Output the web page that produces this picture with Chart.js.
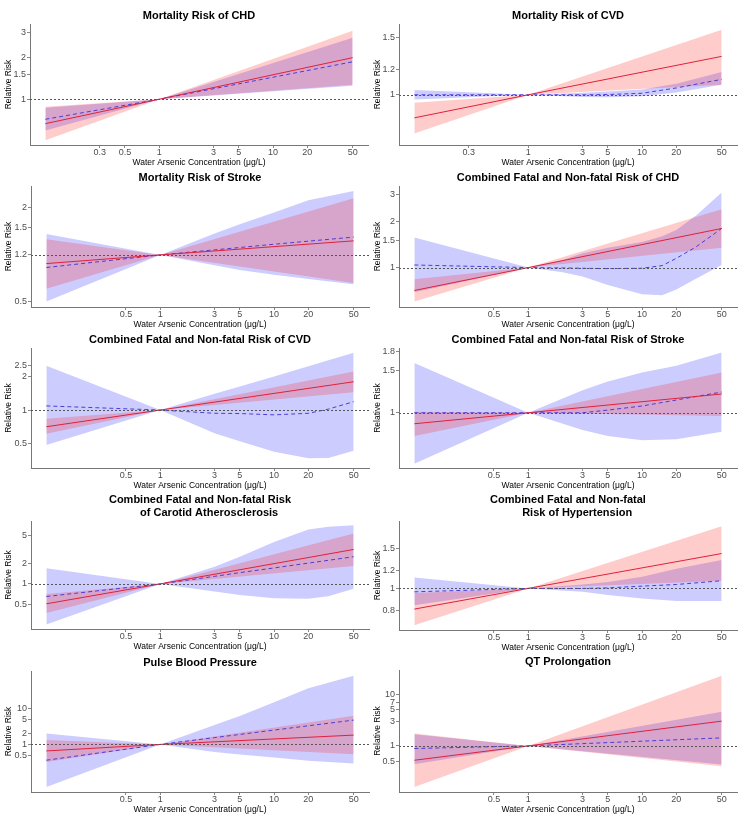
<!DOCTYPE html>
<html>
<head>
<meta charset="utf-8">
<script src="https://cdn.jsdelivr.net/npm/chart.js@4.4.1/dist/chart.umd.min.js"></script>
<style>
    body { margin: 0; background: #fff; }
    #wrap { position: relative; width: 749px; height: 819px; overflow: hidden; }
    #wrap canvas { position: absolute; }
</style>
</head>
<body>
<div id="wrap"></div>
<script>
// Titulos de cada panel (dos lineas en algunos)
const panelTitles = [
    ['Mortality Risk of CHD'],
    ['Mortality Risk of CVD'],
    ['Mortality Risk of Stroke'],
    ['Combined Fatal and Non-fatal Risk of CHD'],
    ['Combined Fatal and Non-fatal Risk of CVD'],
    ['Combined Fatal and Non-fatal Risk of Stroke'],
    ['Combined Fatal and Non-fatal Risk', '      of Carotid Atherosclerosis'],
    ['Combined Fatal and Non-fatal', '      Risk of Hypertension'],
    ['Pulse Blood Pressure'],
    ['QT Prolongation']
];

// Ticks del eje x
const xTicksA = [0.3, 0.5, 1, 3, 5, 10, 20, 50];
const xTicksB = [0.3, 1, 3, 5, 10, 20, 50];
const xTicksC = [0.5, 1, 3, 5, 10, 20, 50];
const xTickSets = [xTicksA, xTicksB, xTicksC, xTicksC, xTicksC, xTicksC, xTicksC, xTicksC, xTicksC, xTicksC];

// Ticks del eje y (valor y texto)
const yTickVals = [
    [1, 1.5, 2, 3], [1, 1.2, 1.5], [0.5, 1, 1.5, 2], [1, 1.5, 2, 3], [0.5, 1, 2, 2.5],
    [1, 1.5, 1.8], [0.5, 1, 2, 5], [0.8, 1, 1.2, 1.5], [0.5, 1, 2, 5, 10], [0.5, 1, 3, 5, 7, 10]
];
const yTickText = [
    ['1', '1.5', '2', '3'], ['1', '1.2', '1.5'], ['0.5', '1.2', '1.5', '2'], ['1', '1.5', '2', '3'], ['0.5', '1', '2', '2.5'],
    ['1', '1.5', '1.8'], ['0.5', '1', '2', '5'], ['0.8', '1', '1.2', '1.5'], ['0.5', '1', '2', '5', '10'], ['0.5', '1', '3', '5', '7', '10']
];
const yMinVals = [0.472, 0.734, 0.464, 0.553, 0.329, 0.589, 0.22, 0.658, 0.0474, 0.128];
const yMaxVals = [3.44, 1.654, 2.76, 3.41, 3.63, 1.86, 8.27, 1.97, 111, 29.5];

// Serie roja (linea continua) con su intervalo
const redX = [0.1, 1, 50];
const redMid = [
    [0.67, 1, 1.98], [0.849, 1, 1.314], [0.88, 1, 1.23], [0.709, 1, 1.80], [0.707, 1, 1.80],
    [0.90, 1, 1.197], [0.513, 1, 3.18], [0.812, 1, 1.42], [0.66, 1, 1.82], [0.527, 1, 3.02]
];
const redLo = [
    [0.51, 1, 1.27], [0.759, 1, 1.074], [0.607, 1, 0.66], [0.60, 1, 1.35], [0.61, 1, 1.45],
    [0.80, 1, 0.969], [0.376, 1, 1.82], [0.691, 1, 1.08], [0.327, 1, 0.536], [0.16, 1, 0.404]
];
const redHi = [
    [0.885, 1, 3.08], [0.945, 1, 1.589], [1.26, 1, 2.30], [0.84, 1, 2.40], [0.835, 1, 2.23],
    [1.01, 1, 1.47], [0.71, 1, 5.43], [0.954, 1, 1.87], [1.32, 1, 6.3], [1.74, 1, 22.9]
];

// Serie azul (linea discontinua) con su intervalo
const blueX = [
    [0.1, 1, 50],
    [0.1, 1, 3, 5, 10, 20, 50],
    [0.1, 1, 3, 5, 10, 20, 50],
    [0.1, 1, 2, 3, 5, 10, 15, 20, 30, 50],
    [0.1, 1, 3, 5, 10, 20, 30, 50],
    [0.1, 1, 3, 5, 10, 20, 50],
    [0.1, 1, 3, 5, 10, 20, 30, 50],
    [0.1, 1, 3, 5, 10, 20, 50],
    [0.1, 1, 3, 5, 10, 20, 50],
    [0.1, 1, 50]
];
const blueMid = [
    [0.72, 1, 1.85],
    [1.0, 1, 1.0, 1.002, 1.011, 1.05, 1.116],
    [0.83, 1, 1.077, 1.115, 1.17, 1.224, 1.30],
    [1.04, 1, 0.995, 0.99, 0.985, 0.99, 1.03, 1.15, 1.37, 1.80],
    [1.09, 1, 0.935, 0.93, 0.905, 0.935, 1.02, 1.19],
    [1.0, 1, 1.0, 1.026, 1.067, 1.13, 1.22],
    [0.655, 1, 1.29, 1.46, 1.71, 2.01, 2.21, 2.49],
    [0.966, 1, 1.0, 1.005, 1.023, 1.04, 1.08],
    [0.364, 1, 1.55, 1.90, 2.51, 3.31, 4.77],
    [0.89, 1, 1.43]
];
const blueLo = [
    [0.60, 1, 1.25],
    [0.967, 1, 0.985, 0.982, 0.989, 1.016, 1.074],
    [0.504, 1, 0.86, 0.80, 0.746, 0.70, 0.65],
    [0.69, 1, 0.933, 0.875, 0.77, 0.67, 0.66, 0.72, 0.85, 1.04],
    [0.483, 1, 0.618, 0.524, 0.42, 0.367, 0.37, 0.43],
    [0.614, 1, 0.847, 0.80, 0.769, 0.775, 0.833],
    [0.255, 1, 0.774, 0.69, 0.62, 0.61, 0.66, 0.85],
    [0.845, 1, 0.966, 0.935, 0.904, 0.88, 0.88],
    [0.0655, 1, 0.62, 0.526, 0.43, 0.35, 0.294],
    [0.44, 1, 0.435]
];
const blueHi = [
    [0.87, 1, 2.74],
    [1.034, 1, 1.015, 1.023, 1.039, 1.082, 1.175],
    [1.36, 1, 1.37, 1.57, 1.87, 2.24, 2.56],
    [1.57, 1, 1.12, 1.24, 1.35, 1.47, 1.6, 1.76, 2.2, 3.09],
    [2.51, 1, 1.40, 1.63, 2.01, 2.49, 2.81, 3.29],
    [1.61, 1, 1.24, 1.35, 1.47, 1.57, 1.78],
    [1.69, 1, 1.78, 2.49, 4.1, 6.2, 6.8, 7.2],
    [1.117, 1, 1.04, 1.066, 1.124, 1.22, 1.33],
    [2.03, 1, 3.46, 6.2, 14.9, 36.6, 82.4],
    [1.69, 1, 4.57]
];

// Area de trazado de cada panel en la pagina: izquierda, arriba, derecha, abajo
const areas = [
    [30, 24, 368, 145], [399, 24, 737, 145],
    [31, 186, 369, 307], [399, 186, 737, 307],
    [31, 348, 369, 468], [399, 348, 737, 468],
    [31, 521, 369, 629], [399, 521, 737, 630],
    [31, 671, 369, 792], [399, 670, 737, 792]
];

const FONT = '"Liberation Sans", Arial, sans-serif';
Chart.defaults.font.family = FONT;

// Titulo centrado sobre el area de trazado
const titlePlugin = {
    id: 'panelTitle',
    afterDraw(chart, args, opts) {
        const { ctx, chartArea } = chart;
        const lines = opts.lines || [];
        ctx.save();
        ctx.font = 'bold 11px ' + FONT;
        ctx.fillStyle = '#000';
        ctx.textAlign = 'center';
        ctx.textBaseline = 'middle';
        const cx = (chartArea.left + chartArea.right) / 2;
        lines.forEach((t, i) => {
            ctx.fillText(t, cx, chartArea.top - 8.5 - (lines.length - 1 - i) * 12.7);
        });
        ctx.restore();
    }
};

// Linea de referencia punteada en RR = 1
const refLine = {
    id: 'refLine',
    afterDatasetsDraw(chart) {
        const { ctx, chartArea, scales } = chart;
        const y = Math.round(scales.y.getPixelForValue(1)) + 0.5;
        ctx.save();
        ctx.strokeStyle = '#555';
        ctx.lineWidth = 1;
        ctx.setLineDash([2, 2]);
        ctx.beginPath();
        ctx.moveTo(chartArea.left, y);
        ctx.lineTo(chartArea.right, y);
        ctx.stroke();
        ctx.restore();
    }
};

function pts(xs, ys) {
    return xs.map((x, i) => ({ x: x, y: ys[i] }));
}

function band(data, color, fill, order) {
    return {
        data: data,
        borderWidth: 0,
        borderColor: 'rgba(0,0,0,0)',
        backgroundColor: color,
        fill: fill,
        pointRadius: 0,
        tension: 0,
        order: order
    };
}

const wrap = document.getElementById('wrap');

panelTitles.forEach((lines, i) => {
    const [L, T, R, B] = areas[i];
    const leftCol = i % 2 === 0;
    const colLeft = leftCol ? 0 : 373;
    const colW = leftCol ? 375 : 376;

    const cv = document.createElement('canvas');
    cv.width = colW;
    cv.height = B - T + 53;
    cv.style.left = colLeft + 'px';
    cv.style.top = (T - 30) + 'px';
    wrap.appendChild(cv);

    const yVals = yTickVals[i];
    const yText = yTickText[i];
    const xVals = xTickSets[i];

    new Chart(cv.getContext('2d'), {
        type: 'line',
        data: {
            datasets: [
                band(pts(blueX[i], blueLo[i]), 'rgba(0,0,255,0)', false, 5),
                band(pts(blueX[i], blueHi[i]), 'rgba(0,0,255,0.2)', '-1', 5),
                band(pts(redX, redLo[i]), 'rgba(255,0,0,0)', false, 4),
                band(pts(redX, redHi[i]), 'rgba(255,0,0,0.2)', '-1', 4),
                {
                    data: pts(blueX[i], blueMid[i]),
                    borderColor: '#4b3bd6',
                    borderWidth: 1,
                    borderDash: [4, 3],
                    pointRadius: 0,
                    tension: 0,
                    fill: false,
                    order: 2
                },
                {
                    data: pts(redX, redMid[i]),
                    borderColor: '#e0203a',
                    borderWidth: 1,
                    pointRadius: 0,
                    tension: 0,
                    fill: false,
                    order: 1
                }
            ]
        },
        options: {
            responsive: false,
            animation: false,
            events: [],
            layout: { padding: { top: 30, right: colW - (R - colLeft), left: 0, bottom: 0 } },
            plugins: {
                legend: { display: false },
                tooltip: { enabled: false },
                panelTitle: { lines: lines }
            },
            scales: {
                x: {
                    type: 'logarithmic',
                    min: 0.0733,
                    max: 68.2,
                    afterBuildTicks: (axis) => { axis.ticks = xVals.map(v => ({ value: v })); },
                    afterFit: (axis) => { axis.height = 23; },
                    ticks: {
                        autoSkip: false,
                        maxRotation: 0,
                        padding: 0,
                        color: '#4d4d4d',
                        font: { size: 9, lineHeight: 1 },
                        callback: (v) => String(v)
                    },
                    grid: { display: true, drawOnChartArea: false, drawTicks: true, tickLength: 3, color: '#888' },
                    border: { display: true, color: '#777', width: 1 },
                    title: {
                        display: true,
                        text: 'Water Arsenic Concentration (μg/L)',
                        color: '#000',
                        font: { size: 8.5 },
                        padding: 0
                    }
                },
                y: {
                    type: 'logarithmic',
                    min: yMinVals[i],
                    max: yMaxVals[i],
                    afterBuildTicks: (axis) => { axis.ticks = yVals.map(v => ({ value: v })); },
                    afterFit: (axis) => { axis.width = L - colLeft; },
                    ticks: {
                        autoSkip: false,
                        padding: 1,
                        color: '#4d4d4d',
                        font: { size: 9, lineHeight: 1 },
                        callback: (v, idx) => yText[idx]
                    },
                    grid: { display: true, drawOnChartArea: false, drawTicks: true, tickLength: 3, color: '#888' },
                    border: { display: true, color: '#777', width: 1 },
                    title: {
                        display: true,
                        text: 'Relative Risk',
                        color: '#000',
                        font: { size: 8.5 },
                        padding: { top: leftCol ? 4 : 0, bottom: 0 }
                    }
                }
            }
        },
        plugins: [titlePlugin, refLine]
    });
});
</script>
</body>
</html>
